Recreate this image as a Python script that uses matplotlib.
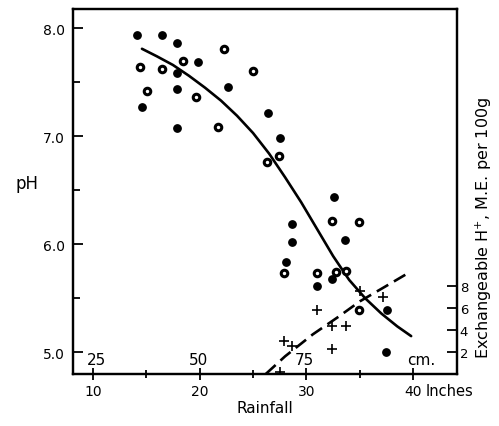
import numpy as np
import matplotlib
matplotlib.use("Agg")
import matplotlib.pyplot as plt
from matplotlib.ticker import MultipleLocator

# pH readings, solid dots (rainfall inches, pH)
solid_x = [14.1, 16.5, 17.9, 19.8, 17.9, 17.9, 22.7, 14.6, 17.9, 26.4,
           27.5, 32.6, 28.6, 28.6, 33.6, 28.1, 32.4, 31.0, 37.5, 37.4]
solid_ph = [7.94, 7.94, 7.86, 7.69, 7.59, 7.44, 7.46, 7.27, 7.08, 7.22,
            6.98, 6.44, 6.19, 6.02, 6.04, 5.84, 5.68, 5.61, 5.39, 5.00]

# pH readings, ringed dots
ring_x = [22.3, 18.4, 14.4, 16.5, 15.1, 19.7, 21.7, 25.0, 27.4, 26.3,
          32.4, 34.9, 27.9, 31.0, 32.8, 33.7, 34.9]
ring_ph = [7.81, 7.70, 7.64, 7.62, 7.42, 7.36, 7.09, 7.60, 6.82, 6.76,
           6.22, 6.21, 5.73, 5.73, 5.74, 5.75, 5.39]

# exchangeable H+ (crosses, right axis)
h_x = [27.9, 28.6, 31.0, 32.4, 33.7, 32.4, 35.0, 37.2, 27.5]
h_val = [3.0, 2.5, 5.8, 4.4, 4.4, 2.3, 7.5, 7.0, 0.2]

# fitted pH curve
curve_x = [14.6, 16.0, 17.5, 19.0, 20.5, 22.0, 23.5, 25.0, 26.5, 28.0,
           29.5, 31.0, 32.5, 34.0, 35.5, 37.0, 38.5, 39.8]
curve_ph = [7.81, 7.74, 7.66, 7.56, 7.45, 7.33, 7.19, 7.03, 6.84, 6.62,
            6.39, 6.14, 5.89, 5.67, 5.50, 5.36, 5.24, 5.15]

# fitted H+ curve (dashed)
hcurve_x = [26.2, 28.0, 30.6, 33.0, 35.0, 37.3, 39.4]
hcurve_h = [0.0, 1.6, 3.6, 5.2, 6.6, 7.9, 9.1]

cm_labels = ["25", "50", "75", "cm."]
cm_pos = [10.3, 19.9, 29.8, 40.7]

fig = plt.figure(figsize=(4.99, 4.27), dpi=100)
ax = fig.add_axes([0.146, 0.122, 0.770, 0.855])

ax.plot(curve_x, curve_ph, color="black", lw=1.9, solid_capstyle="round",
        solid_joinstyle="round")
ax.scatter(solid_x, solid_ph, s=28, color="black", zorder=3)
ax.scatter(ring_x, ring_ph, s=22, facecolor="white", edgecolor="black",
           linewidths=2.2, zorder=3)

ax.set_xlim(8.13, 44.1)
ax.set_ylim(4.80, 8.18)
ax.set_xticks([10, 20, 30, 40])
ax.xaxis.set_minor_locator(MultipleLocator(5))
ax.set_yticks([5.0, 6.0, 7.0, 8.0])
ax.set_yticklabels(["5.0", "6.0", "7.0", "8.0"])
ax.yaxis.set_minor_locator(MultipleLocator(0.5))
ax.tick_params(axis="y", which="major", direction="in", length=7, width=1.3,
               labelsize=10, pad=6)
ax.tick_params(axis="y", which="minor", direction="in", length=5, width=1.3)
ax.tick_params(axis="x", which="major", direction="inout", length=8, width=1.3,
               labelsize=10, pad=3)
ax.tick_params(axis="x", which="minor", direction="inout", length=6, width=1.3)
for s in ax.spines.values():
    s.set_linewidth(1.6)

for lab, xp in zip(cm_labels, cm_pos):
    ax.text(xp, 4.93, lab, ha="center", va="center", fontsize=11)

ax.annotate("Inches", xy=(41.2, 0), xycoords=("data", "axes fraction"),
            xytext=(0, -6.2), textcoords="offset points",
            ha="left", va="top", fontsize=10.5)
ax.set_xlabel("Rainfall", fontsize=11, labelpad=2)
fig.text(0.055, 0.57, "pH", fontsize=12, ha="center", va="center")

ax2 = ax.twinx()
ax2.set_position([0.146, 0.122, 0.770, 0.855])
ax2.plot(hcurve_x, hcurve_h, color="black", lw=1.9, dashes=(5, 2.5))
ax2.plot(h_x, h_val, "+", color="black", ms=7, mew=1.2)
ax2.set_ylim(0, 33.2)
ax2.set_yticks([2, 4, 6, 8])
ax2.tick_params(axis="y", direction="in", length=7, width=1.3, labelsize=9.5, pad=2)
for s in ax2.spines.values():
    s.set_linewidth(1.6)

fig.text(0.970, 0.466, "Exchangeable H$^{+}$, M.E. per 100g", rotation=90,
         fontsize=11.5, ha="center", va="center")

fig.savefig("out.png", dpi=100)
